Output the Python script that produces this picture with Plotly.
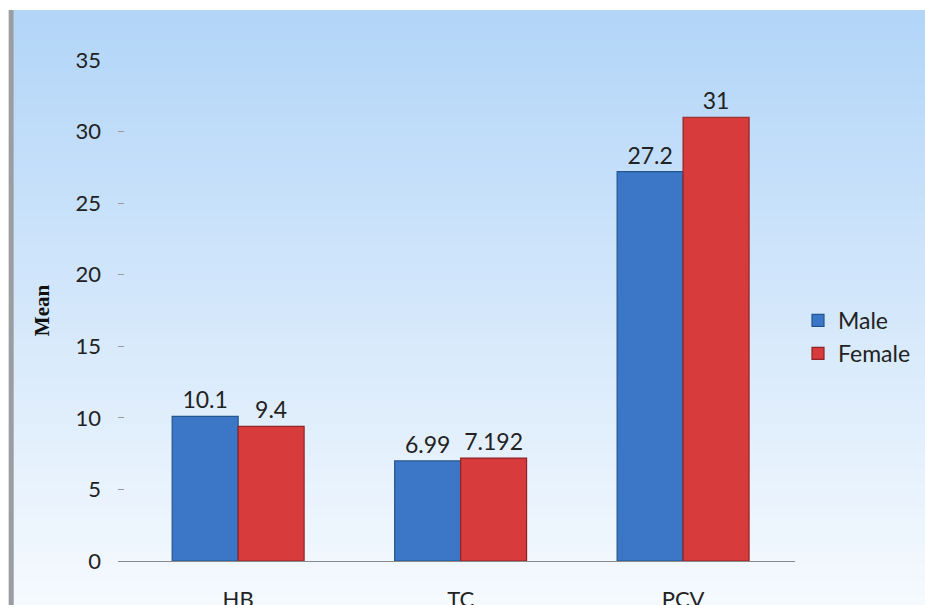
import plotly.graph_objects as go

# Blood parameters by sex
categories = ["HB", "TC", "PCV"]
male_values = [10.1, 6.99, 27.2]
female_values = [9.4, 7.192, 31]
male_labels = ["10.1", "6.99", "27.2"]
female_labels = ["9.4", "7.192", "31"]
y_ticks = [0, 5, 10, 15, 20, 25, 30, 35]

fig = go.Figure()
fig.add_trace(go.Bar(
    name="Male", x=categories, y=male_values, text=male_labels,
    textposition="outside", cliponaxis=False,
    marker=dict(color="#3b77c6", line=dict(color="#24558f", width=1.2)),
    textfont=dict(family="Lato", size=23, color="#222222"),
))
fig.add_trace(go.Bar(
    name="Female", x=categories, y=female_values, text=female_labels,
    textposition="outside", cliponaxis=False,
    marker=dict(color="#d83b3b", line=dict(color="#8f2424", width=1.2)),
    textfont=dict(family="Lato", size=23, color="#222222"),
))

# Vertical sky gradient behind the chart, built from overlapping horizontal bands
shapes = []
top_c = (178, 213, 248)
bot_c = (246, 250, 254)
y_top, y_bot = 1.0998, -0.1
n = 80
step = (y_top - y_bot) / n
for i in range(n):
    t = i / (n - 1)
    c = tuple(round(top_c[k] + (bot_c[k] - top_c[k]) * t) for k in range(3))
    y1 = y_top - step * i
    y0 = y1 - step * 1.6
    if i == n - 1:
        y0 = y_bot
    shapes.append(dict(
        type="rect", xref="paper", yref="paper", layer="below",
        x0=-0.154, x1=1.25, y0=max(y0, y_bot), y1=y1,
        fillcolor="rgb(%d,%d,%d)" % c, line=dict(width=0),
    ))
# Grey frame edge on the left
shapes.append(dict(
    type="rect", xref="paper", yref="paper", layer="below",
    x0=-0.1615, x1=-0.1540, y0=y_bot, y1=y_top,
    fillcolor="#9a9ea3", line=dict(width=0),
))

fig.update_layout(
    width=925, height=605,
    margin=dict(l=118, r=130, t=60, b=44, autoexpand=False),
    paper_bgcolor="white",
    plot_bgcolor="rgba(0,0,0,0)",
    barmode="group",
    bargap=0.407,
    bargroupgap=0,
    shapes=shapes,
    font=dict(family="Lato", size=19, color="#222222"),
    legend=dict(
        x=0.8627, y=0.443, xref="container", yref="container",
        xanchor="left", yanchor="middle",
        font=dict(family="Lato", size=23, color="#222222"),
        bgcolor="rgba(0,0,0,0)", tracegroupgap=0, itemwidth=30,
    ),
    xaxis=dict(
        showline=True, linecolor="#8a8a8a", linewidth=1.2,
        showgrid=False, ticks="", ticklabelstandoff=18, automargin=False,
        tickfont=dict(family="Lato", size=22, color="#222222"),
        range=[-0.54, 2.503],
    ),
    yaxis=dict(
        range=[0, 35], tickvals=y_ticks, showgrid=False, zeroline=False,
        showline=False, ticks="inside", ticklen=6, tickcolor="#9a9a9a",
        ticklabelstandoff=16, automargin=False,
        tickfont=dict(family="Lato", size=22, color="#222222"),
        title=dict(text="<b>Mean</b>", standoff=20,
                   font=dict(family="Liberation Serif", size=21, color="#111111")),
    ),
)

fig.write_html("out.html")
